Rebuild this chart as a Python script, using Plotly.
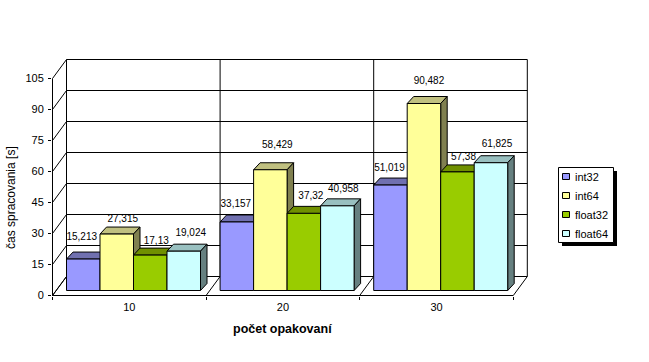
import plotly.graph_objects as go

groups = ["10", "20", "30"]
series = ["int32", "int64", "float32", "float64"]
int32 = [15.213, 33.157, 51.019]
int64 = [27.315, 58.429, 90.482]
float32 = [17.13, 37.32, 57.38]
float64 = [19.024, 40.958, 61.825]
y_ticks = [0, 15, 30, 45, 60, 75, 90, 105]

values = [int32, int64, float32, float64]
front = ["#9999FF", "#FFFF99", "#99CC00", "#CCFFFF"]
top = ["#7070B0", "#C0C080", "#709000", "#99C0C0"]
side = ["#5C5C99", "#808050", "#5C7A00", "#668080"]
# label lift above the bar's front top edge, px
lift = [[22, 17, 16.5], [15, 24, 22], [13.5, 17, 14.4], [17.7, 16, 18]]
lx = [[-1.5, -1, -1], [6, 7, 5], [6, 7, 6], [7, 6, 6]]

W, H = 649, 362
L, R, T, B = 52, 530, 57, 296   # plot box, px
PX = 153.6                      # px per category
PY = 217 / 105                  # px per value unit
ux = lambda p: p / PX
uy = lambda p: p / PY
XMIN, XMAX = -0.5, 2.5
YTOP = 105
DX, DY = ux(14), uy(19)    # wall depth
BX, BY = ux(6.5), uy(7)    # bar depth
FLOOR = uy(5)              # bar base above the axis
BAR = ux(33.5)
GROUP_LEFT = ux(14)

x_low = XMIN - ux(0.5)
y_low = -uy(0.5)
x_range = [x_low, x_low + ux(R - L)]
y_range = [y_low, y_low + uy(B - T)]

fig = go.Figure()


def line(xs, ys):
    fig.add_trace(go.Scatter(x=xs, y=ys, mode="lines", showlegend=False, hoverinfo="skip",
                             line=dict(color="black", width=1)))


def poly(xs, ys, color, name=None):
    fig.add_trace(go.Scatter(x=xs + xs[:1], y=ys + ys[:1], mode="lines", fill="toself", fillcolor=color,
                             name=name, showlegend=False, hoverinfo="skip",
                             line=dict(color="black", width=1)))


# walls and front axis lines
for t in y_ticks:
    line([XMIN, XMIN + DX, XMAX + DX], [t, t + DY, t + DY])
for i in range(4):
    x0 = XMIN + i
    line([x0, x0 + DX, x0 + DX], [0, DY, YTOP + DY])
line([XMIN, XMIN], [0, YTOP])
line([XMIN, XMAX], [0, 0])

# bars, painted left to right
label_x, label_y, label_text = [], [], []
for g in range(3):
    for s in range(4):
        v = values[s][g]
        x0 = g - 0.5 + GROUP_LEFT + s * BAR
        x1 = x0 + BAR
        y0 = FLOOR
        y1 = FLOOR + v
        poly([x0, x1, x1 + BX, x0 + BX], [y1, y1, y1 + BY, y1 + BY], top[s])
        poly([x1, x1 + BX, x1 + BX, x1], [y0, y0 + BY, y1 + BY, y1], side[s])
        poly([x0, x1, x1, x0], [y0, y0, y1, y1], front[s], series[s])
        label_x.append((x0 + x1) / 2 + ux(lx[s][g]))
        label_y.append(y1 + uy(lift[s][g]))
        label_text.append(str(v).replace(".", ","))

fig.add_trace(go.Scatter(x=label_x, y=label_y, text=label_text, mode="text", showlegend=False,
                         cliponaxis=False, hoverinfo="skip", textposition="middle center",
                         textfont=dict(family="Liberation Sans", size=10, color="black")))

font = dict(family="Liberation Sans", size=11, color="black")
fig.update_layout(
    width=W, height=H, autosize=False, showlegend=False,
    paper_bgcolor="white", plot_bgcolor="white",
    margin=dict(l=L, r=W - R, t=T, b=H - B, pad=0),
    font=font,
    xaxis=dict(range=x_range, tickmode="array", tickvals=[0, 1, 2], ticktext=groups, ticklen=0,
               showgrid=False, zeroline=False, showline=False,
               tickfont=font, ticklabelstandoff=3,
               minor=dict(tickmode="array", tickvals=[-0.5, 0.5, 1.5, 2.5], ticks="outside", ticklen=3,
                          tickcolor="black", tickwidth=1, showgrid=False)),
    yaxis=dict(range=y_range, tickmode="array", tickvals=y_ticks, ticks="outside", ticklen=3,
               tickcolor="black", showgrid=False, zeroline=False, showline=False, tickfont=font,
               ticklabelstandoff=2),
)


def px(p):
    return (p - L) / (R - L)


def py(p):
    return (B - p) / (B - T)


shapes = [
    dict(type="rect", xref="paper", yref="paper", x0=px(562), x1=px(617), y0=py(171), y1=py(246),
         fillcolor="black", line=dict(width=0)),
    dict(type="rect", xref="paper", yref="paper", x0=px(558.5), x1=px(613.5), y0=py(167.5), y1=py(242.5),
         fillcolor="white", line=dict(color="black", width=1)),
]
annotations = [
    dict(text="čas spracovania [s]", xref="paper", yref="paper", x=px(11), y=py(198), showarrow=False,
         textangle=-90, font=dict(family="Liberation Sans", size=12, color="black"),
         xanchor="center", yanchor="middle"),
    dict(text="<b>počet opakovaní</b>", xref="paper", yref="paper", x=px(282), y=py(329), showarrow=False,
         font=dict(family="Liberation Sans", size=12.5, color="black"), xanchor="center", yanchor="middle"),
]
for i, name in enumerate(series):
    yc = 176.5 + i * 19
    shapes.append(dict(type="rect", xref="paper", yref="paper", x0=px(562.5), x1=px(569.5),
                       y0=py(yc - 3), y1=py(yc + 3), fillcolor=front[i], line=dict(color="black", width=1)))
    annotations.append(dict(text=name, xref="paper", yref="paper", x=px(574), y=py(yc), showarrow=False,
                            xanchor="left", yanchor="middle", font=font, xshift=-1))
fig.update_layout(shapes=shapes, annotations=annotations)
fig.write_html("out.html", config={"displayModeBar": False},
               post_script="document.body.style.margin='0';")
